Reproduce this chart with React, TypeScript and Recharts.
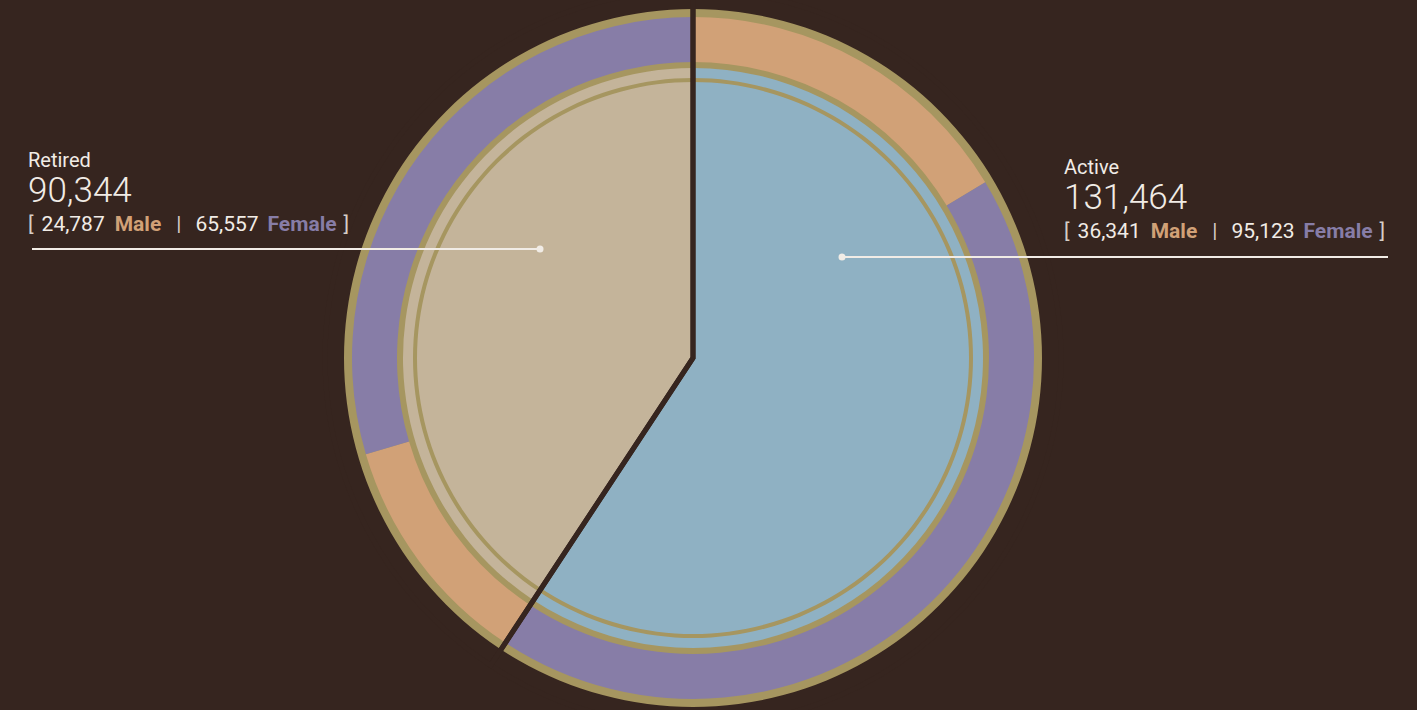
import { PieChart, Pie, Cell } from "recharts";

// status totals (inner pie)
const statusNames = ["Active", "Retired"];
const statusTotals = [131464, 90344];

// gender split per status (outer ring), clockwise from 12 o'clock
const genderNames = ["Active Male", "Active Female", "Retired Male", "Retired Female"];
const genderValues = [36341, 95123, 24787, 65557];
const genderKind = ["Male", "Female", "Male", "Female"];

const maleCounts = [36341, 24787];
const femaleCounts = [95123, 65557];

const BG = "#36251f";
const GOLD = "#a69660";
const PURPLE = "#877da7";
const ORANGE = "#d1a177";
const BLUE = "#8fb1c3";
const TAN = "#c4b49a";
const TEXT = "#f1ece6";
const BRACKET = "#d6cec6";

const CX = 693;
const CY = 358;

const statusData = statusNames.map((name, i) => ({ name, value: statusTotals[i] }));
const genderData = genderNames.map((name, i) => ({ name, value: genderValues[i], kind: genderKind[i] }));
const fullRing = [{ name: "ring", value: 1 }];

const fmt = (n: number) => n.toLocaleString("en-US");

function StatusLabel({ x, y, idx }: { x: number; y: number; idx: number }) {
  return (
    <g fontFamily="Roboto, 'Liberation Sans', sans-serif">
      <text x={x} y={y} fontSize={20} fill={TEXT}>{statusNames[idx]}</text>
      <text x={x} y={y + 35} fontSize={35} fontWeight={300} fill={TEXT}>{fmt(statusTotals[idx])}</text>
      <text x={x} y={y + 64} fontSize={21} fill={TEXT}>
        <tspan fill={BRACKET}>[</tspan>
        <tspan dx={8}>{fmt(maleCounts[idx])}</tspan>
        <tspan dx={10} fill={ORANGE} fontWeight={700}>Male</tspan>
        <tspan dx={15} fill={BRACKET}>|</tspan>
        <tspan dx={14}>{fmt(femaleCounts[idx])}</tspan>
        <tspan dx={9} fill={PURPLE} fontWeight={700}>Female</tspan>
        <tspan dx={7} fill={BRACKET}>]</tspan>
      </text>
    </g>
  );
}

export default function App() {
  return (
    <div style={{ position: "fixed", left: 0, top: 0, width: 1417, height: 710, background: BG, overflow: "hidden" }}>
      <PieChart width={1417} height={710} margin={{ top: 0, right: 0, bottom: 0, left: 0 }}>
        {/* gold backing behind the outer ring */}
        <Pie data={fullRing} dataKey="value" cx={CX} cy={CY} innerRadius={289} outerRadius={349}
          startAngle={90} endAngle={-270} fill={GOLD} stroke="none" isAnimationActive={false} />
        {/* outer ring: male / female */}
        <Pie data={genderData} dataKey="value" cx={CX} cy={CY} innerRadius={296} outerRadius={341}
          startAngle={90} endAngle={-270} stroke="none" isAnimationActive={false}>
          {genderData.map((d) => (
            <Cell key={d.name} fill={d.kind === "Male" ? ORANGE : PURPLE} />
          ))}
        </Pie>
        {/* inner pie: active / retired */}
        <Pie data={statusData} dataKey="value" cx={CX} cy={CY} innerRadius={0} outerRadius={290}
          startAngle={90} endAngle={-270} stroke="none" isAnimationActive={false}>
          {statusData.map((d, i) => (
            <Cell key={d.name} fill={i === 0 ? BLUE : TAN} />
          ))}
        </Pie>
        {/* thin gold circle inside the pie */}
        <Pie data={fullRing} dataKey="value" cx={CX} cy={CY} innerRadius={276} outerRadius={280}
          startAngle={90} endAngle={-270} fill={GOLD} stroke="none" isAnimationActive={false} />
        {/* dark dividers between active and retired */}
        <Pie data={statusData} dataKey="value" cx={CX} cy={CY} innerRadius={0} outerRadius={368}
          startAngle={90} endAngle={-270} fill="none" stroke={BG} strokeWidth={5} isAnimationActive={false} />
      </PieChart>
      <svg width={1417} height={710} style={{ position: "absolute", left: 0, top: 0 }}>
        <StatusLabel x={28} y={167} idx={1} />
        <line x1={32} y1={249} x2={540} y2={249} stroke={TEXT} strokeWidth={2} />
        <circle cx={540} cy={249} r={3.5} fill={TEXT} />
        <StatusLabel x={1064} y={174} idx={0} />
        <line x1={842} y1={257} x2={1388} y2={257} stroke={TEXT} strokeWidth={2} />
        <circle cx={842} cy={257} r={3.5} fill={TEXT} />
      </svg>
    </div>
  );
}
